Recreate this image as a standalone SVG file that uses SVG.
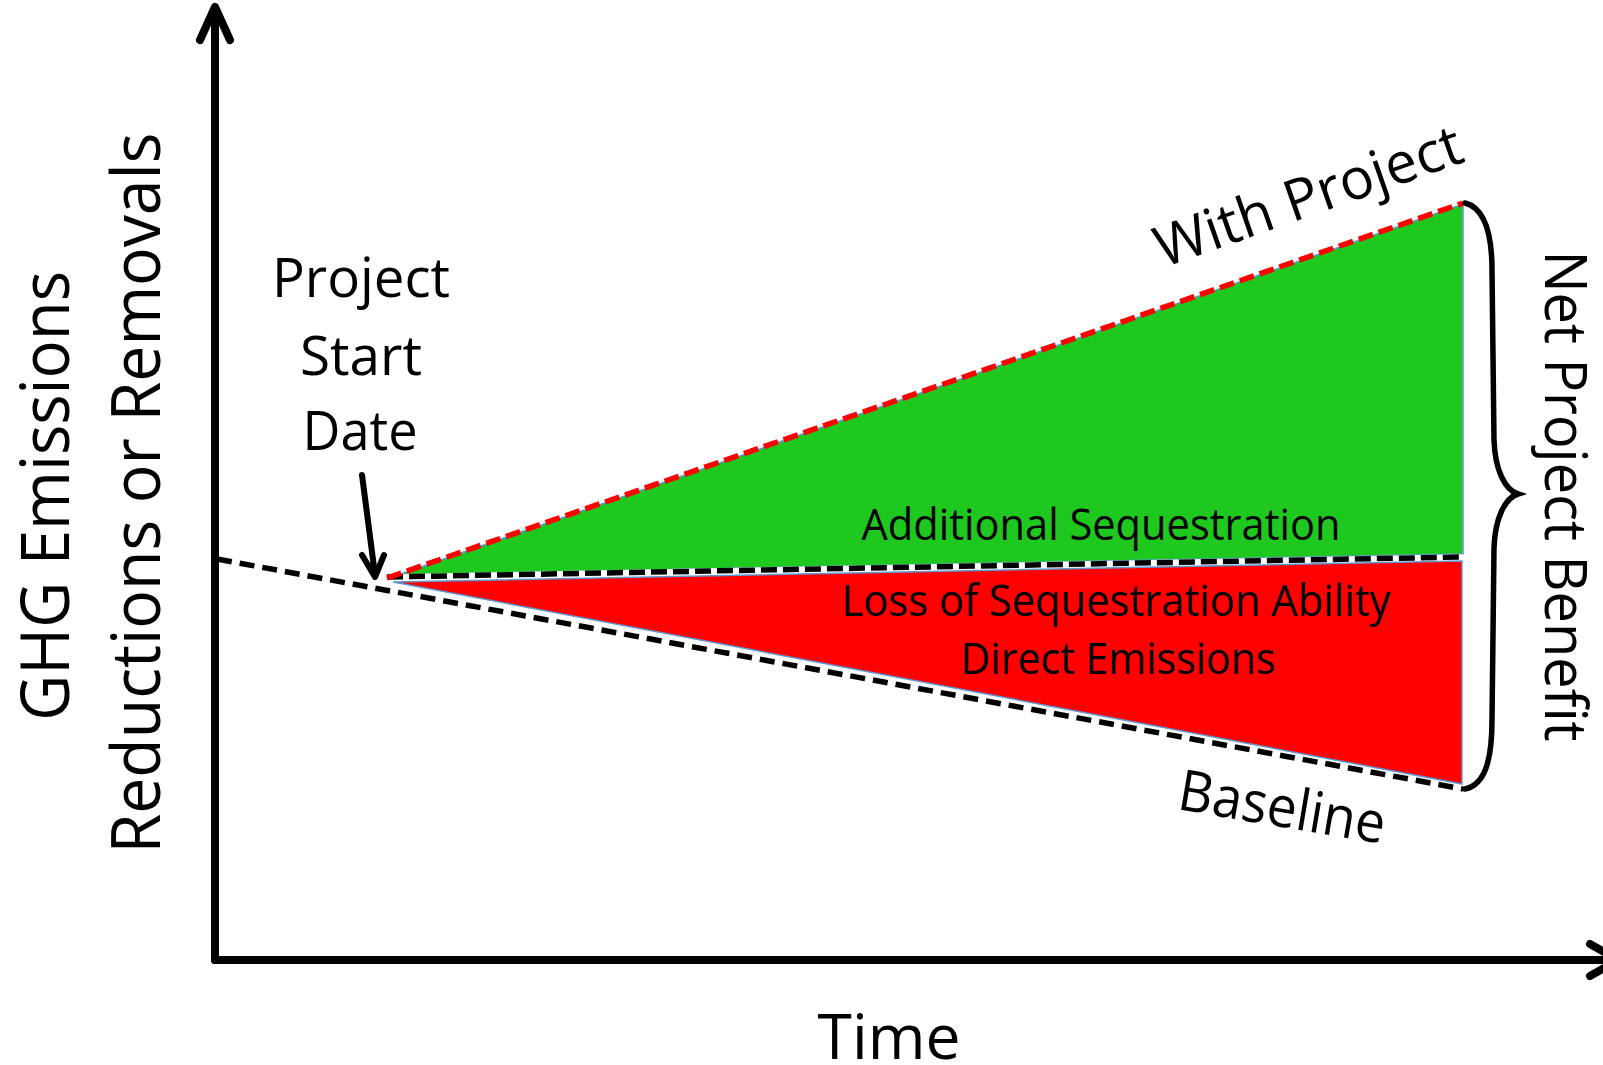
<svg xmlns="http://www.w3.org/2000/svg" width="1603" height="1065" viewBox="0 0 1603 1065">
<style>
.t{font-family:"Open Sans","Noto Sans","Liberation Sans",sans-serif;fill:#000}
.ax{stroke:#000;stroke-width:8;fill:none;stroke-linecap:round;stroke-linejoin:round}
.dash{fill:none;stroke-width:5.5}
.area{stroke:#5B9BD5;stroke-width:1.5}
</style>
<rect width="1603" height="1065" fill="#fff"/>
<g id="areas">
<polygon class="area" points="392,577 1463,204 1463,554 395,575" fill="#1EC81E"/>
<polygon class="area" points="393,582 1462,561 1462,784" fill="#FF0000"/>
</g>
<g id="connectors">
<path class="ax" d="M215,960 L215,8 M200,40 L215,7 L230,40"/>
<path class="ax" d="M215,960 L1615,960 M1590,944 L1618,960 L1590,976"/>
<line class="dash" x1="217" y1="559" x2="1463" y2="789" stroke="#000" stroke-dasharray="15 8"/>
<line class="dash" x1="387" y1="577" x2="1463" y2="557" stroke="#fff"/>
<line class="dash" x1="387" y1="577" x2="1463" y2="557" stroke="#000" stroke-dasharray="16 6"/>
<line class="dash" x1="387" y1="578" x2="1463" y2="203" stroke="#FF0000" stroke-dasharray="15 6"/>
<path d="M362,475 L375,575 M362,555 L375,577 L384,555" fill="none" stroke="#000" stroke-width="6" stroke-linecap="round" stroke-linejoin="round"/>
<path d="M1465,203 C1485,208 1492,235 1492,270 L1494,440 C1495,470 1505,490 1518,494 C1505,498 1495,518 1494,548 L1492,720 C1492,760 1485,785 1465,789" fill="none" stroke="#000" stroke-width="5.5" stroke-linecap="round"/>
</g>
<g id="y-label">
<text class="t" font-size="67" text-anchor="middle" transform="translate(69,496) rotate(-90)" textLength="450" lengthAdjust="spacingAndGlyphs">GHG Emissions</text>
<text class="t" font-size="67" text-anchor="middle" transform="translate(160,493) rotate(-90)" textLength="721" lengthAdjust="spacingAndGlyphs">Reductions or Removals</text>
</g>
<g id="x-label">
<text class="t" font-size="62" text-anchor="middle" x="889" y="1059" textLength="143" lengthAdjust="spacingAndGlyphs">Time</text>
</g>
<g id="start-label">
<text class="t" font-size="55" text-anchor="middle" x="361" y="297" textLength="178" lengthAdjust="spacingAndGlyphs">Project</text>
<text class="t" font-size="55" text-anchor="middle" x="361" y="375" textLength="122" lengthAdjust="spacingAndGlyphs">Start</text>
<text class="t" font-size="55" text-anchor="middle" x="360" y="450" textLength="115" lengthAdjust="spacingAndGlyphs">Date</text>
</g>
<g id="with-project">
<text class="t" font-size="57" transform="translate(1163,268) rotate(-19.4)" textLength="322" lengthAdjust="spacingAndGlyphs">With Project</text>
</g>
<g id="baseline">
<text class="t" font-size="57" transform="translate(1176,809) rotate(9.6)" textLength="209" lengthAdjust="spacingAndGlyphs">Baseline</text>
</g>
<g id="additional">
<text class="t" font-size="44" text-anchor="middle" x="1101" y="540" textLength="479" lengthAdjust="spacingAndGlyphs">Additional Sequestration</text>
</g>
<g id="loss">
<text class="t" font-size="44" text-anchor="middle" x="1116" y="616" textLength="549" lengthAdjust="spacingAndGlyphs">Loss of Sequestration Ability</text>
<text class="t" font-size="44" text-anchor="middle" x="1118" y="674" textLength="315" lengthAdjust="spacingAndGlyphs">Direct Emissions</text>
</g>
<g id="net-benefit">
<text class="t" font-size="59" text-anchor="middle" transform="translate(1545,496) rotate(90)" textLength="491" lengthAdjust="spacingAndGlyphs">Net Project Benefit</text>
</g>
</svg>
